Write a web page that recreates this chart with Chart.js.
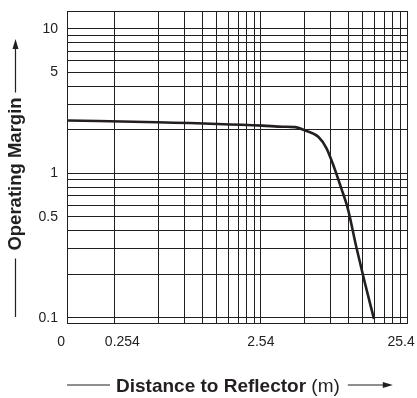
<!DOCTYPE html>
<html>
<head>
<meta charset="utf-8">
<script src="https://cdn.jsdelivr.net/npm/chart.js@4.4.0/dist/chart.umd.min.js"></script>
<style>
  html, body { margin: 0; padding: 0; background: #fff; }
</style>
</head>
<body>
<canvas id="marginChart" width="417" height="398"></canvas>
<script>
// curve (distance in m, operating margin)
const distance = [0.122, 0.498, 2.61, 3.6, 4.37, 5.10, 6.28, 7.15, 7.93, 9.01, 10.0, 11.4, 12.95, 15.1];
const margin   = [2.32, 2.26, 2.14, 2.10, 2.09, 1.98, 1.79, 1.49, 1.15, 0.79, 0.57, 0.313, 0.182, 0.098];

const xRange = [0.12, 25.4];
const yRange = [0.092, 13.3];

const xTicks = [0.254, 0.508, 0.762, 1.016, 1.27, 1.524, 1.778, 2.032, 2.286,
                2.54, 5.08, 7.62, 10.16, 12.7, 15.24, 17.78, 20.32, 22.86, 25.4];
// labels are padded with no-break spaces so they sit where the original prints them
const nb = '\u00a0';
const xLabels = {
    '0.12': '0' + nb.repeat(3),
    '0.254': nb.repeat(4) + '0.254',
    '2.54': '2.54',
    '25.4': '25.4' + nb.repeat(3)
};

const yTicks = [0.1, 0.2, 0.3, 0.4, 0.5, 0.6, 0.7, 0.8, 0.9,
                1, 2, 3, 4, 5, 6, 7, 8, 9, 10];
const yLabels = ['0.1', '0.5', '1', '5', '10'];

const ink = '#231f20';
const fontFamily = "'Liberation Sans', Arial, Helvetica, sans-serif";

function arrowHead(ctx, x, y, dir) {
    // dir: 'up' or 'right'
    ctx.beginPath();
    if (dir === 'up') {
        ctx.moveTo(x, y);
        ctx.lineTo(x - 3, y + 10);
        ctx.lineTo(x + 3, y + 10);
    } else {
        ctx.moveTo(x, y);
        ctx.lineTo(x - 10, y - 3);
        ctx.lineTo(x - 10, y + 3);
    }
    ctx.closePath();
    ctx.fill();
}

const axisTitles = {
    id: 'axisTitles',
    afterDraw(chart) {
        const { ctx, chartArea: a } = chart;
        ctx.save();
        ctx.fillStyle = ink;
        ctx.strokeStyle = ink;
        ctx.lineWidth = 1.2;

        // y title, rotated
        ctx.font = 'bold 18.5px ' + fontFamily;
        const yText = 'Operating Margin';
        const yw = ctx.measureText(yText).width;
        const yc = (a.top + a.bottom) / 2 + 7;
        const yx = 21;
        ctx.save();
        ctx.translate(yx, yc);
        ctx.rotate(-Math.PI / 2);
        ctx.textAlign = 'center';
        ctx.textBaseline = 'alphabetic';
        ctx.fillText(yText, 0, 0);
        ctx.restore();
        const lx = 15.5;
        ctx.beginPath();
        ctx.moveTo(lx, yc + yw / 2 + 8);
        ctx.lineTo(lx, a.bottom - 6);
        ctx.moveTo(lx, yc - yw / 2 - 5);
        ctx.lineTo(lx, a.top + 36);
        ctx.stroke();
        arrowHead(ctx, lx, a.top + 28, 'up');

        // x title, bold part + normal unit
        const bold = 'bold 19px ' + fontFamily;
        const normal = '19px ' + fontFamily;
        const tBold = 'Distance to Reflector';
        const tUnit = ' (m)';
        ctx.font = bold;
        const wb = ctx.measureText(tBold).width;
        ctx.font = normal;
        const wu = ctx.measureText(tUnit).width;
        const xs = a.left + 49;
        const by = 392;
        ctx.textAlign = 'left';
        ctx.textBaseline = 'alphabetic';
        ctx.font = bold;
        ctx.fillText(tBold, xs, by);
        ctx.font = normal;
        ctx.fillText(tUnit, xs + wb, by);
        const ly = 385;
        const xe = xs + wb + wu;
        ctx.beginPath();
        ctx.moveTo(a.left, ly);
        ctx.lineTo(xs - 6, ly);
        ctx.moveTo(xe + 8, ly);
        ctx.lineTo(xe + 45, ly);
        ctx.stroke();
        arrowHead(ctx, xe + 53, ly, 'right');
        ctx.restore();
    }
};

const points = distance.map((d, i) => ({ x: d, y: margin[i] }));

const config = {
    type: 'line',
    data: {
        datasets: [{
            label: 'Operating Margin',
            data: points,
            borderColor: ink,
            borderWidth: 2.6,
            pointRadius: 0,
            fill: false,
            cubicInterpolationMode: 'monotone'
        }]
    },
    options: {
        responsive: false,
        animation: false,
        devicePixelRatio: 1,
        layout: { padding: { left: 0, top: 11, right: 10, bottom: 0 } },
        plugins: {
            legend: { display: false },
            tooltip: { enabled: false }
        },
        scales: {
            x: {
                type: 'logarithmic',
                min: xRange[0],
                max: xRange[1],
                afterBuildTicks: s => {
                    s.ticks = [xRange[0]].concat(xTicks).map(v => ({ value: v }));
                },
                afterFit: s => {
                    s.height = 75;
                    s.paddingLeft = 0;
                    s.paddingRight = 0;
                },
                grid: { color: ink, lineWidth: 1, drawTicks: false },
                border: { color: ink, width: 1 },
                ticks: {
                    autoSkip: false,
                    maxRotation: 0,
                    padding: 11,
                    color: '#222',
                    font: { family: fontFamily, size: 14 },
                    callback: (v) => xLabels[String(v)] || ''
                }
            },
            y: {
                type: 'logarithmic',
                min: yRange[0],
                max: yRange[1],
                afterBuildTicks: s => {
                    s.ticks = [yRange[0]].concat(yTicks, [yRange[1]]).map(v => ({ value: v }));
                },
                afterFit: s => {
                    s.width = 67;
                    s.paddingTop = 0;
                    s.paddingBottom = 0;
                },
                grid: { color: ink, lineWidth: 1, drawTicks: false },
                border: { color: ink, width: 1 },
                ticks: {
                    autoSkip: false,
                    padding: 9,
                    color: '#222',
                    font: { family: fontFamily, size: 14 },
                    callback: (v) => yLabels.includes(String(v)) ? String(v) : ''
                }
            }
        }
    },
    plugins: [axisTitles]
};

new Chart(document.getElementById('marginChart'), config);
</script>
</body>
</html>
